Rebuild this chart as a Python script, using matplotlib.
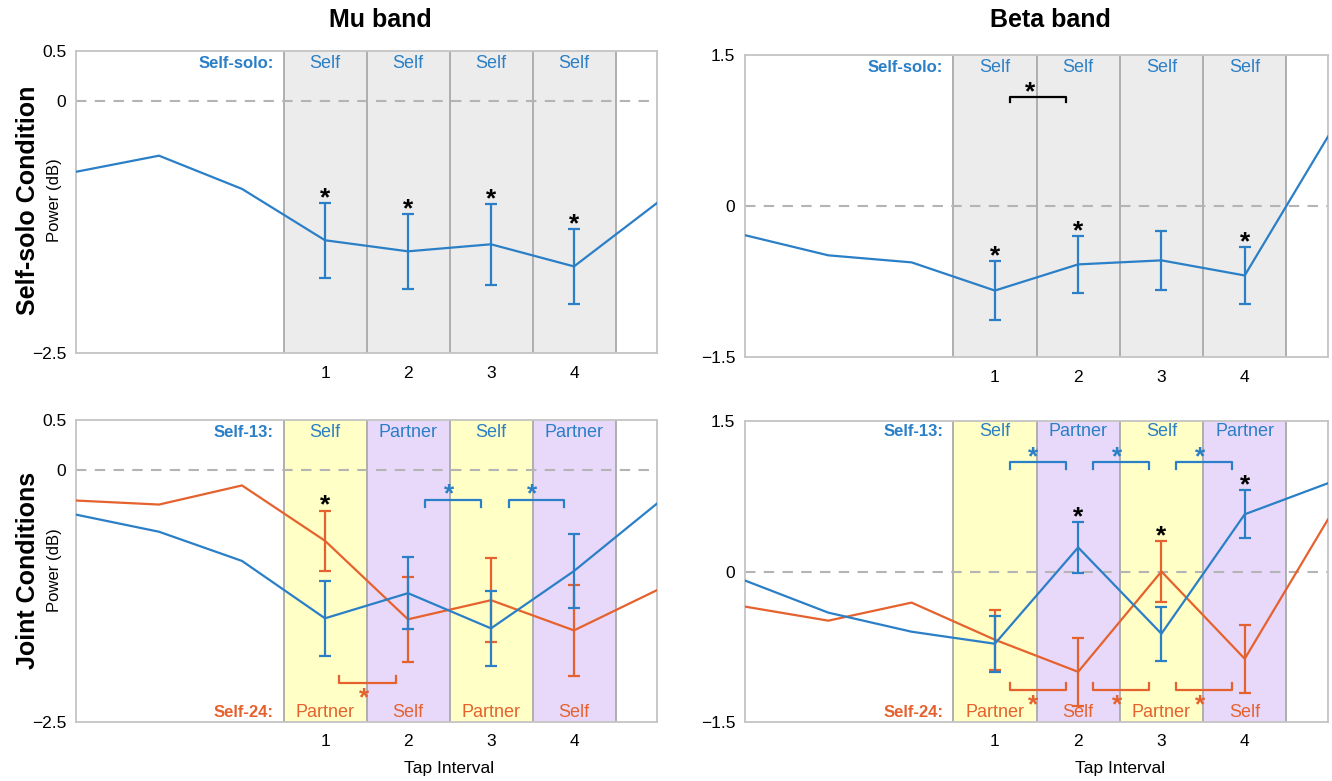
import numpy as np
import matplotlib
matplotlib.use('Agg')
import matplotlib.pyplot as plt
import matplotlib.transforms as mtransforms

plt.rcParams['font.family'] = ['Liberation Sans', 'DejaVu Sans']

# x positions: three points before the taps, tap intervals 1-4, one after
x = [-2, -1, 0, 1, 2, 3, 4, 5]
taps = [1, 2, 3, 4]

# Mu band, self-solo condition
mu_solo = [-0.70, -0.54, -0.87, -1.38, -1.49, -1.42, -1.64, -1.01]
mu_solo_err = [0.37, 0.37, 0.40, 0.37]

# Beta band, self-solo condition
beta_solo = [-0.29, -0.49, -0.56, -0.84, -0.58, -0.54, -0.69, 0.69]
beta_solo_err = [0.29, 0.28, 0.29, 0.28]

# Mu band, joint conditions
mu_13 = [-0.44, -0.61, -0.90, -1.47, -1.22, -1.57, -1.00, -0.33]
mu_13_err = [0.37, 0.36, 0.37, 0.37]
mu_24 = [-0.30, -0.34, -0.15, -0.70, -1.48, -1.29, -1.59, -1.19]
mu_24_err = [0.30, 0.42, 0.42, 0.45]

# Beta band, joint conditions
beta_13 = [-0.09, -0.41, -0.60, -0.72, 0.24, -0.62, 0.57, 0.88]
beta_13_err = [0.28, 0.25, 0.27, 0.24]
beta_24 = [-0.35, -0.49, -0.31, -0.68, -1.00, 0.00, -0.87, 0.52]
beta_24_err = [0.30, 0.34, 0.30, 0.34]

solo_labels = ['Self', 'Self', 'Self', 'Self']
labels_13 = ['Self', 'Partner', 'Self', 'Partner']
labels_24 = ['Partner', 'Self', 'Partner', 'Self']

BLUE = '#2a7fc7'
ORANGE = '#e5622e'
GRAY_BAND = '#ececec'
YELLOW = '#ffffc6'
PURPLE = '#e8d9fb'

W, H = 1332, 781
fig = plt.figure(figsize=(W / 100, H / 100), dpi=100)


def make_axes(left, right, top, bottom):
    return fig.add_axes([left / W, 1 - bottom / H, (right - left) / W, (bottom - top) / H])


def setup(ax, ylim, yticks, ylabels, band_colors):
    ax.set_xlim(-2, 5)
    ax.set_ylim(*ylim)
    for i, t in enumerate(taps):
        ax.axvspan(t - 0.5, t + 0.5, color=band_colors[i], zorder=0, lw=0)
    for b in [0.5, 1.5, 2.5, 3.5, 4.5]:
        ax.axvline(b, color='#a9a9a9', lw=1.3, zorder=1)
    ax.axhline(0, color='#b4b4b4', lw=1.5, dashes=(5, 4), zorder=1)
    ax.set_xticks(taps)
    ax.set_xticklabels([str(t) for t in taps], fontsize=12.5)
    ax.set_yticks(yticks)
    ax.set_yticklabels(ylabels, fontsize=12.5)
    ax.tick_params(length=0, pad=7)
    ax.tick_params(axis='x', pad=9)
    for s in ax.spines.values():
        s.set_color('#c4c4c4')
        s.set_linewidth(1.3)


def band_text(ax, head, labels, color, yfrac):
    tr = mtransforms.blended_transform_factory(ax.transData, ax.transAxes)
    ax.text(0.38, yfrac, head, transform=tr, ha='right', va='center',
            color=color, fontsize=12, fontweight='bold')
    for t, lab in zip(taps, labels):
        ax.text(t, yfrac, lab, transform=tr, ha='center', va='center',
                color=color, fontsize=13)


def series(ax, y, err, color):
    ax.plot(x, y, color=color, lw=1.6, zorder=3)
    centers = [y[x.index(t)] for t in taps]
    ax.errorbar(taps, centers, yerr=err, fmt='none', ecolor=color,
                elinewidth=1.6, capsize=4.5, capthick=1.6, zorder=3)


def star(ax, y, err, tap, color='black'):
    top = y[x.index(tap)] + err[taps.index(tap)]
    ax.annotate('*', (tap, top), xytext=(0, -5), textcoords='offset points',
                ha='center', va='bottom', fontsize=19, fontweight='bold', color=color)


def bracket(ax, x1, x2, y, color, up=False, h=0.07, sx=None):
    d = h if up else -h
    ax.plot([x1, x1, x2, x2], [y + d, y, y, y + d], color=color, lw=1.6, zorder=3)
    sx = (x1 + x2) / 2 - 0.05 if sx is None else sx
    dy = -20 if up else -5
    ax.annotate('*', (sx, y), xytext=(0, dy), textcoords='offset points',
                ha='center', va='bottom', fontsize=19, fontweight='bold', color=color)


def title(ax, text, yfrac):
    tr = mtransforms.blended_transform_factory(ax.transData, ax.transAxes)
    ax.text(1.67, yfrac, text, transform=tr, ha='center', va='center',
            fontsize=18, fontweight='bold')


# top-left: mu, self-solo
ax1 = make_axes(76, 657, 51, 353)
setup(ax1, (-2.5, 0.5), [-2.5, 0, 0.5], ['\u22122.5', '0', '0.5'], [GRAY_BAND] * 4)
series(ax1, mu_solo, mu_solo_err, BLUE)
for t in taps:
    star(ax1, mu_solo, mu_solo_err, t)
band_text(ax1, 'Self-solo:', solo_labels, BLUE, 0.96)
title(ax1, 'Mu band', 1.103)

# top-right: beta, self-solo
ax2 = make_axes(745, 1328, 55, 357)
setup(ax2, (-1.5, 1.5), [-1.5, 0, 1.5], ['\u22121.5', '0', '1.5'], [GRAY_BAND] * 4)
series(ax2, beta_solo, beta_solo_err, BLUE)
for t in [1, 2, 4]:
    star(ax2, beta_solo, beta_solo_err, t)
bracket(ax2, 1.18, 1.85, 1.08, 'black', h=0.05, sx=1.42)
band_text(ax2, 'Self-solo:', solo_labels, BLUE, 0.96)
title(ax2, 'Beta band', 1.116)

joint_colors = [YELLOW, PURPLE, YELLOW, PURPLE]

# bottom-left: mu, joint
ax3 = make_axes(76, 657, 420, 722)
setup(ax3, (-2.5, 0.5), [-2.5, 0, 0.5], ['\u22122.5', '0', '0.5'], joint_colors)
series(ax3, mu_24, mu_24_err, ORANGE)
series(ax3, mu_13, mu_13_err, BLUE)
star(ax3, mu_24, mu_24_err, 1)
bracket(ax3, 2.2, 2.88, -0.29, BLUE)
bracket(ax3, 3.22, 3.88, -0.29, BLUE)
bracket(ax3, 1.17, 1.86, -2.11, ORANGE, up=True)
band_text(ax3, 'Self-13:', labels_13, BLUE, 0.96)
band_text(ax3, 'Self-24:', labels_24, ORANGE, 0.033)

# bottom-right: beta, joint
ax4 = make_axes(745, 1328, 421, 722)
setup(ax4, (-1.5, 1.5), [-1.5, 0, 1.5], ['\u22121.5', '0', '1.5'], joint_colors)
series(ax4, beta_24, beta_24_err, ORANGE)
series(ax4, beta_13, beta_13_err, BLUE)
star(ax4, beta_13, beta_13_err, 2)
star(ax4, beta_24, beta_24_err, 3)
star(ax4, beta_13, beta_13_err, 4)
for a in [1, 2, 3]:
    bracket(ax4, a + 0.18, a + 0.85, 1.09, BLUE)
    bracket(ax4, a + 0.18, a + 0.85, -1.18, ORANGE, up=True)
band_text(ax4, 'Self-13:', labels_13, BLUE, 0.965)
band_text(ax4, 'Self-24:', labels_24, ORANGE, 0.03)

for ax in [ax3, ax4]:
    tr = mtransforms.blended_transform_factory(ax.transData, ax.transAxes)
    ax.text(2.5, -0.155, 'Tap Interval', transform=tr, ha='center', va='center', fontsize=12.5)

# row labels
fig.text(28 / W, 1 - 200 / H, 'Self-solo Condition', rotation=90, ha='center', va='center',
         fontsize=18, fontweight='bold')
fig.text(28 / W, 1 - 570 / H, 'Joint Conditions', rotation=90, ha='center', va='center',
         fontsize=18, fontweight='bold')
fig.text(55 / W, 1 - 200 / H, 'Power (dB)', rotation=90, ha='center', va='center', fontsize=12)
fig.text(55 / W, 1 - 570 / H, 'Power (dB)', rotation=90, ha='center', va='center', fontsize=12)

fig.savefig('out.png', dpi=100)
